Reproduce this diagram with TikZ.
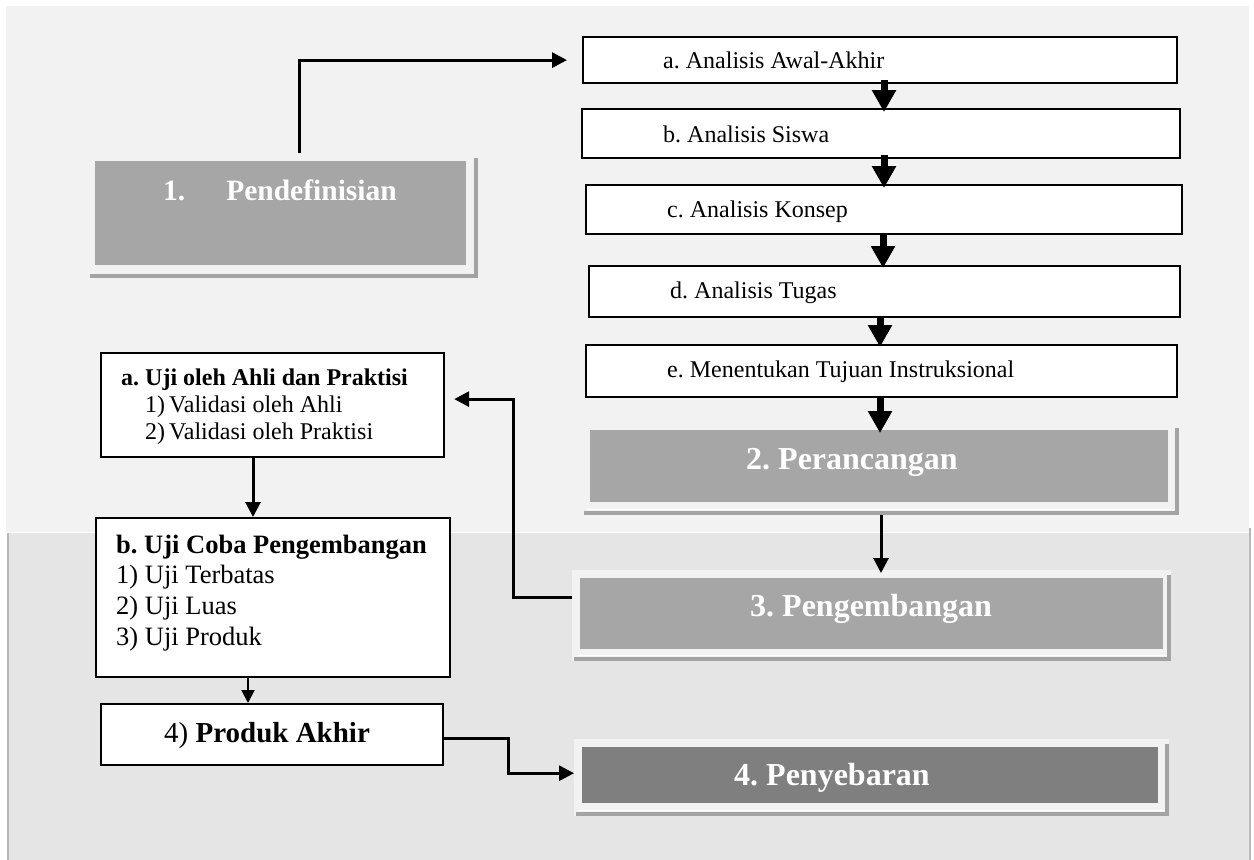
\documentclass[tikz,border=0pt]{standalone}
\usepackage{fontspec}
\setmainfont{Liberation Serif}
\usetikzlibrary{arrows.meta}
\definecolor{panelA}{HTML}{F2F2F2}
\definecolor{panelB}{HTML}{E5E5E5}
\definecolor{boxgray}{HTML}{A6A6A6}
\definecolor{boxdark}{HTML}{7F7F7F}
\definecolor{shadowgray}{HTML}{A3A3A3}
\definecolor{edgegray}{HTML}{B8B8B8}
\begin{document}
\frenchspacing
\begin{tikzpicture}[x=1pt,y=-1pt,
  wbox/.style={draw=black, line width=2.2pt, fill=white, inner sep=0pt, anchor=north west},
  gbox/.style={fill=boxgray, draw=none, inner sep=0pt, anchor=north west},
  dbox/.style={fill=boxdark, draw=none, inner sep=0pt, anchor=north west},
  framebox/.style={fill=panelA, draw=none, inner sep=0pt, anchor=north west},
  shadowline/.style={draw=shadowgray, line width=4pt},
  wtext/.style={inner sep=0pt, anchor=base west, font=\fontsize{24}{27}\selectfont},
  btext/.style={inner sep=0pt, anchor=base west, font=\fontsize{26.5}{30.7}\selectfont},
  gtext/.style={inner sep=0pt, anchor=base west, text=white, font=\fontsize{32}{36}\selectfont\bfseries},
  thinarrow/.style={draw=black, line width=3pt, -{Triangle[width=15pt,length=15pt]}},
  bigarrow/.style={draw=black, line width=7pt, -{Triangle[width=23pt,length=22pt]}}
]
\useasboundingbox (0,0) rectangle (1254,860);
% panels
\fill[panelA] (6,6) rectangle (1249,532);
\fill[panelB] (7,532) rectangle (1251,860);
\draw[edgegray, line width=2pt] (8,532) -- (8,860);
\draw[edgegray, line width=2pt] (1250,528) -- (1250,860);
\draw[white, line width=1pt] (7,532) -- (1249,532);

% ---- gray boxes with frames ----
\node[framebox, minimum width=389pt, minimum height=125pt] (f1) at (88,153) {};
\draw[shadowline] (475.5,158) -- (475.5,275.5) -- (90,275.5);
\node[gbox, minimum width=371pt, minimum height=104pt] (p1) at (95,161) {};
\node[gtext, font=\fontsize{29.5}{34}\selectfont\bfseries] (t1) at (163,200) {1.\hspace{41pt}Pendefinisian};

\node[framebox, minimum width=595pt, minimum height=92pt] (f2) at (583,423) {};
\draw[shadowline] (1176.5,428) -- (1176.5,512.5) -- (584,512.5);
\draw[white, line width=1pt] (587,509.5) -- (1174,509.5);
\node[gbox, minimum width=578pt, minimum height=72pt] (p2) at (590,430) {};
\node[gtext] (t2) at (746,469) {2. Perancangan};

\node[framebox, minimum width=599pt, minimum height=91pt] (f3) at (572,570) {};
\draw[shadowline] (1169,575) -- (1169,658.5) -- (574,658.5);
\draw[white, line width=1pt] (577,655.5) -- (1167,655.5);
\node[gbox, minimum width=583pt, minimum height=71pt] (p3) at (580,578) {};
\node[gtext] (t3) at (750,616) {3. Pengembangan};

\node[framebox, minimum width=595pt, minimum height=77pt] (f4) at (574,739) {};
\draw[shadowline] (1166.5,744) -- (1166.5,813.5) -- (576,813.5);
\draw[white, line width=1pt] (579,810.5) -- (1164,810.5);
\node[dbox, minimum width=576pt, minimum height=56pt] (p4) at (582,747) {};
\node[gtext] (t4) at (734,785) {4. Penyebaran};

% ---- white boxes right column ----
\node[wbox, minimum width=594pt, minimum height=46pt] (a) at (582,36) {};
\node[wtext] (ta) at (663,68) {a. Analisis Awal-Akhir};
\node[wbox, minimum width=598pt, minimum height=49pt] (b) at (581,108) {};
\node[wtext] (tb) at (663,142) {b. Analisis Siswa};
\node[wbox, minimum width=596pt, minimum height=49pt] (c) at (585,184) {};
\node[wtext] (tc) at (667,217) {c. Analisis Konsep};
\node[wbox, minimum width=591pt, minimum height=51pt] (d) at (588,265) {};
\node[wtext] (td) at (670,298) {d. Analisis Tugas};
\node[wbox, minimum width=591pt, minimum height=52pt] (e) at (585,344) {};
\node[wtext] (te) at (667,377) {e. Menentukan Tujuan Instruksional};

% ---- left column ----
\node[wbox, minimum width=343pt, minimum height=104pt] (uA) at (100,352) {};
\node[wtext] (tuA1) at (121,385) {\textbf{a. Uji oleh Ahli dan Praktisi}};
\node[wtext] (tuA2) at (145,412) {1)\,Validasi oleh Ahli};
\node[wtext] (tuA3) at (145,439) {2)\,Validasi oleh Praktisi};
\node[wbox, minimum width=354pt, minimum height=159pt] (uB) at (95,517) {};
\node[btext] (tuB1) at (116,553) {\textbf{b. Uji Coba Pengembangan}};
\node[btext] (tuB2) at (116,583.5) {1) Uji Terbatas};
\node[btext] (tuB3) at (116,614) {2) Uji Luas};
\node[btext] (tuB4) at (116,645) {3) Uji Produk};
\node[wbox, line width=1.8pt, minimum width=342pt, minimum height=61pt] (pa) at (100,703) {};
\node[wtext, font=\fontsize{29}{33}\selectfont] (tpa) at (164,742) {4) \textbf{Produk Akhir}};

% ---- helper coordinates ----
\coordinate (xR) at (884,0);
\coordinate (xR2) at (881,0);
\coordinate (x1) at (299,0);
\coordinate (xL1) at (253,0);
\coordinate (xL2) at (248,0);
\coordinate (mid3) at (513,500);
\coordinate (mid4) at (508,755);

% ---- connectors ----
\draw[thinarrow, shorten >=15pt] (f1.north -| x1) |- (a.west);
\draw[bigarrow, shorten <=-4pt, shorten >=-4pt] (a.south -| xR) -- (b.north -| xR);
\draw[bigarrow, shorten <=-4pt, shorten >=-4pt] (b.south -| xR) -- (c.north -| xR);
\draw[bigarrow, shorten <=-1pt, shorten >=-3pt] ([xshift=-1pt]c.south -| xR) -- ([xshift=-1pt]d.north -| xR);
\draw[bigarrow, shorten <=-1pt, shorten >=-3pt] ([xshift=-4pt]d.south -| xR) -- ([xshift=-4pt]e.north -| xR);
\draw[bigarrow, shorten <=-2pt, shorten >=-3pt] ([xshift=-4pt]e.south -| xR) -- ([xshift=-4pt]p2.north -| xR);
\draw[thinarrow, shorten >=-3pt] (f2.south -| xR2) -- (f3.north -| xR2);
\draw[thinarrow, shorten >=9pt] ([yshift=18.5pt]f3.west) -| (mid3) |- ([yshift=6pt]uA.east);
\draw[thinarrow] (uA.south -| xL1) -- (uB.north -| xL1);
\draw[draw=black, line width=2pt, -{Triangle[width=13pt,length=13pt]}] (uB.south -| xL2) -- (pa.north -| xL2);
\draw[thinarrow] ([yshift=-4.5pt]pa.east) -| (mid4) |- ([yshift=4.5pt]f4.west);
\end{tikzpicture}
\end{document}
